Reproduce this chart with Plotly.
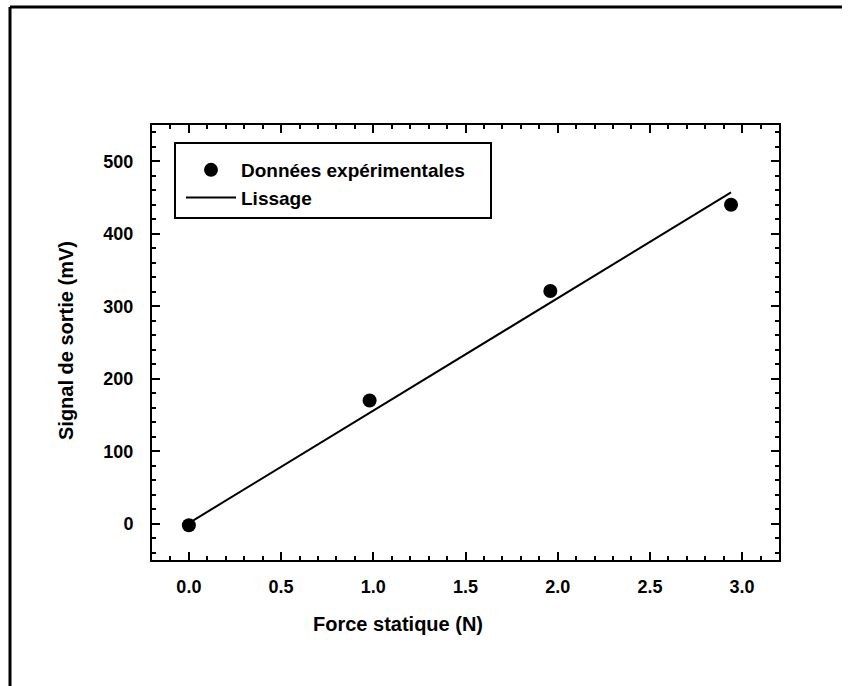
import plotly.graph_objects as go

# Data
force_n = [0.0, 0.98, 1.96, 2.94]
signal_mv = [-2, 170, 321, 440]
fit_force_n = [0.02, 2.94]
fit_signal_mv = [4, 457]

x_ticks = [0.0, 0.5, 1.0, 1.5, 2.0, 2.5, 3.0]
x_ticklabels = ["0.0", "0.5", "1.0", "1.5", "2.0", "2.5", "3.0"]
y_ticks = [0, 100, 200, 300, 400, 500]
y_ticklabels = ["0", "100", "200", "300", "400", "500"]

FONT = "Liberation Sans, Arial, sans-serif"
PL, PR, PT, PB = 152, 779, 125, 560
W, H = 850, 686

def px(xp):
    return (xp - PL) / (PR - PL)

def py(yp):
    return (PB - yp) / (PB - PT)

fig = go.Figure()
fig.add_trace(go.Scatter(
    x=force_n, y=signal_mv, mode="markers", name="Données expérimentales",
    marker=dict(color="black", size=14, line=dict(width=0)),
))
fig.add_trace(go.Scatter(
    x=fit_force_n, y=fit_signal_mv, mode="lines", name="Lissage",
    line=dict(color="black", width=2),
))

axis_common = dict(
    showline=True, linecolor="black", linewidth=2, mirror="allticks",
    ticks="inside", ticklen=8, tickwidth=1.5, tickcolor="black",
    showgrid=False, zeroline=False,
    tickfont=dict(family=FONT, size=18, color="black", weight="bold"),
)

fig.update_xaxes(
    range=[-0.2, 3.2], tickvals=x_ticks, ticktext=x_ticklabels,
    minor=dict(ticks="inside", ticklen=4, tickwidth=1.5, tickcolor="black", dtick=0.1, tick0=0, showgrid=False),
    ticklabelstandoff=9,
    **axis_common,
)
fig.update_yaxes(
    range=[-50, 550], tickvals=y_ticks, ticktext=y_ticklabels,
    minor=dict(ticks="inside", ticklen=4, tickwidth=1.5, tickcolor="black", dtick=20, tick0=0, showgrid=False),
    ticklabelstandoff=13,
    **axis_common,
)

title_font = dict(family=FONT, size=20, color="black", weight="bold")
annotations = [
    dict(text="Force statique (N)", xref="paper", yref="paper", x=px(398), y=py(624),
         xanchor="center", yanchor="middle", showarrow=False, font=title_font),
    dict(text="Signal de sortie (mV)", xref="paper", yref="paper", x=px(66), y=py(340),
         xanchor="center", yanchor="middle", showarrow=False, textangle=-90, font=title_font),
]

shapes = [
    # legend box
    dict(type="rect", xref="paper", yref="paper", x0=px(175), x1=px(491), y0=py(218), y1=py(143),
         line=dict(color="black", width=2), fillcolor="rgba(0,0,0,0)"),
    # page frame (left and top edges)
    dict(type="line", xref="paper", yref="paper", x0=px(10), x1=px(10), y0=py(686), y1=py(7),
         line=dict(color="black", width=3)),
    dict(type="line", xref="paper", yref="paper", x0=px(10), x1=px(842), y0=py(7), y1=py(7),
         line=dict(color="black", width=3)),
]

fig.update_layout(
    width=W, height=H,
    margin=dict(l=PL, r=W - PR, t=PT, b=H - PB),
    paper_bgcolor="white", plot_bgcolor="white",
    showlegend=True,
    legend=dict(
        x=px(181), y=py(151), xanchor="left", yanchor="top",
        bgcolor="rgba(0,0,0,0)", borderwidth=0, itemwidth=50,
        font=dict(family=FONT, size=19, color="black", weight="bold"),
        tracegroupgap=0,
    ),
    shapes=shapes,
    annotations=annotations,
)

fig.write_html("out.html")
